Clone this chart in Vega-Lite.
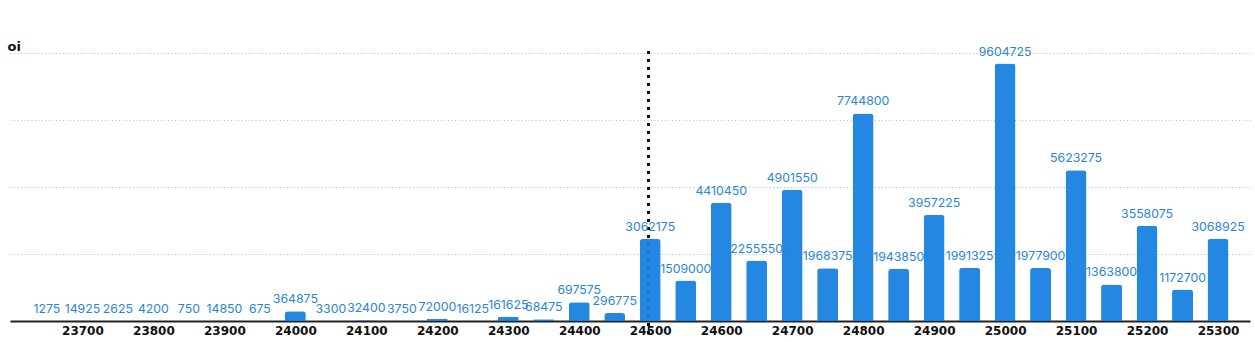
{
  "$schema": "https://vega.github.io/schema/vega-lite/v6.json",
  "autosize": "none",
  "width": 1240,
  "height": 268,
  "padding": {"left": 10, "top": 53, "right": 5, "bottom": 21},
  "background": "white",
  "config": {"view": {"stroke": null}},
  "data": {"values": [
    {"strike": 23650, "oi": 1275},
    {"strike": 23700, "oi": 14925},
    {"strike": 23750, "oi": 2625},
    {"strike": 23800, "oi": 4200},
    {"strike": 23850, "oi": 750},
    {"strike": 23900, "oi": 14850},
    {"strike": 23950, "oi": 675},
    {"strike": 24000, "oi": 364875},
    {"strike": 24050, "oi": 3300},
    {"strike": 24100, "oi": 32400},
    {"strike": 24150, "oi": 3750},
    {"strike": 24200, "oi": 72000},
    {"strike": 24250, "oi": 16125},
    {"strike": 24300, "oi": 161625},
    {"strike": 24350, "oi": 68475},
    {"strike": 24400, "oi": 697575},
    {"strike": 24450, "oi": 296775},
    {"strike": 24500, "oi": 3062175},
    {"strike": 24550, "oi": 1509000},
    {"strike": 24600, "oi": 4410450},
    {"strike": 24650, "oi": 2255550},
    {"strike": 24700, "oi": 4901550},
    {"strike": 24750, "oi": 1968375},
    {"strike": 24800, "oi": 7744800},
    {"strike": 24850, "oi": 1943850},
    {"strike": 24900, "oi": 3957225},
    {"strike": 24950, "oi": 1991325},
    {"strike": 25000, "oi": 9604725},
    {"strike": 25050, "oi": 1977900},
    {"strike": 25100, "oi": 5623275},
    {"strike": 25150, "oi": 1363800},
    {"strike": 25200, "oi": 3558075},
    {"strike": 25250, "oi": 1172700},
    {"strike": 25300, "oi": 3068925}
  ]},
  "encoding": {
    "x": {
      "field": "strike", "type": "quantitative",
      "scale": {"domain": [23605, 25338], "nice": false, "zero": false},
      "axis": {
        "title": null,
        "values": [23700, 23800, 23900, 24000, 24100, 24200, 24300, 24400, 24500, 24600, 24700, 24800, 24900, 25000, 25100, 25200, 25300],
        "format": "d",
        "grid": false,
        "ticks": false,
        "domainColor": "#222222",
        "domainWidth": 2,
        "labelFont": "DejaVu Sans",
        "labelFontWeight": "bold",
        "labelFontSize": 12,
        "labelColor": "#111111",
        "labelPadding": 4,
        "labelFlush": false
      }
    },
    "y": {
      "field": "oi", "type": "quantitative",
      "scale": {"domain": [0, 10000000], "nice": false},
      "axis": {
        "title": "oi",
        "titleAngle": 0,
        "titleX": -3,
        "titleY": -3,
        "titleAlign": "left",
        "titleBaseline": "alphabetic",
        "titleFont": "DejaVu Sans",
        "titleFontWeight": "bold",
        "titleFontSize": 13,
        "titleColor": "#111111",
        "labels": false,
        "ticks": false,
        "domain": false,
        "values": [2500000, 5000000, 7500000, 10000000],
        "grid": true,
        "gridColor": "#b8b8b8",
        "gridDash": [1, 2.5],
        "gridWidth": 1
      }
    }
  },
  "layer": [
    {
      "mark": {"type": "rule", "color": "#111111", "strokeWidth": 2, "strokeDash": [2, 6]},
      "encoding": {
        "x": {"datum": 24498, "type": "quantitative"},
        "y": {"datum": 10060000, "type": "quantitative"},
        "y2": {"datum": -500000}
      }
    },
    {
      "mark": {"type": "bar", "size": 21, "color": "#137ee0", "opacity": 0.93, "cornerRadiusTopLeft": 3, "cornerRadiusTopRight": 3}
    },
    {
      "mark": {"type": "text", "baseline": "bottom", "dy": -5, "font": "Inter", "fontSize": 12.3, "color": "#2a86d6"},
      "encoding": {"text": {"field": "oi", "type": "quantitative", "format": "d"}}
    }
  ]
}
